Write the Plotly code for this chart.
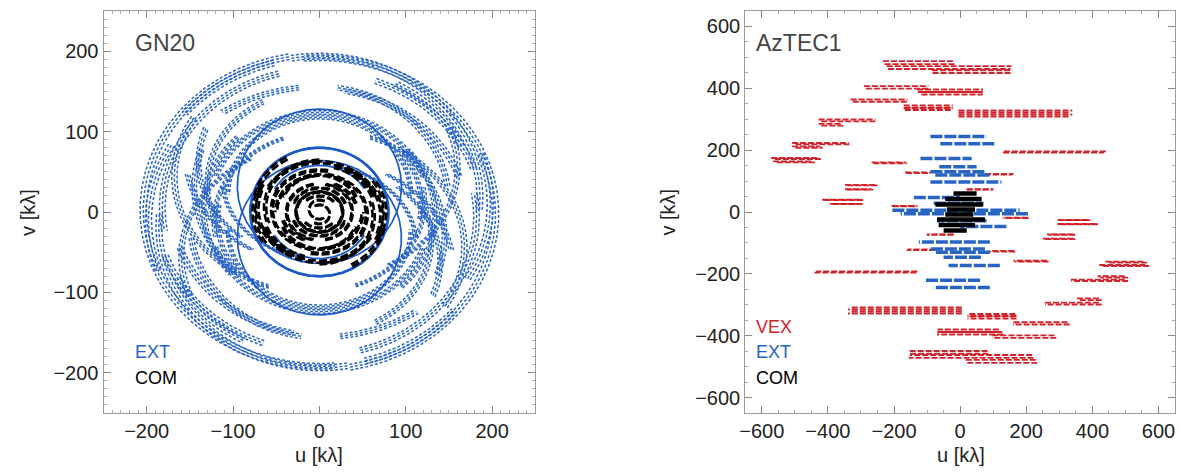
import numpy as np
import plotly.graph_objects as go

# ---------------- GN20 (left panel): elliptical uv-track arcs ----------------
# each arc: u = a*cos(t), v = c + b*sin(t), t in [t1, t2] degrees; conjugate (-u,-v) also drawn
gn_ext_a  = [204, 204, 186, 182, 196, 150, 168, 160, 175, 140, 128, 122, 118, 106, 134, 112, 190, 198, 172, 155, 145, 130]
gn_ext_b  = [194, 194, 176, 172, 178, 144, 146, 140, 150, 122, 122, 110, 108,  96, 126,  98, 182, 186, 165, 135, 140, 118]
gn_ext_c  = [ -2,  -2,  18,   6, -22,  12,  44,  55,  30,  62,   2,  12, -10,  22,  -4,  40,   8,  10, -12,  70, -30,  35]
gn_ext_t1 = [-80, 105,  -5, 105,  97,   8, 150, -60,  20, 160,  20, -70, 170,   0, -45, 185, 200, -30,  20, 190, -20, 120]
gn_ext_t2 = [ 95, 140, 100, 190, 125,  82, 250,  20,  60, 230, 160,  10, 215, 180,  40, 260, 250,  20,  80, 240,  50, 200]

gn_bold_a  = [80, 95, 60]
gn_bold_b  = [80, 96, 58]
gn_bold_c  = [ 0, 32,  0]
gn_bold_t1 = [ 0,  0, 30]
gn_bold_t2 = [360, 360, 150]
gn_bold_w  = [2.4, 1.7, 1.8]

gn_com_a  = [12, 27, 45, 45, 55, 63, 72, 75, 68, 38, 76, 50, 58, 32, 66, 22]
gn_com_b  = [12, 25, 42, 42, 50, 58, 66, 68, 62, 35, 70, 46, 54, 30, 60, 20]
gn_com_c  = [ 3,  0,  4,  4, -3,  6, -5,  8,  0,  0,  0,  0,  2,  0, -2,  0]
gn_com_t1 = [60,  0, 20, 200, -30, 90, -20, 120, 200, 100, 150, 100, 260, 200, 20, 40]
gn_com_t2 = [300, 360, 160, 250, 80, 200, 60, 170, 330, 260, 215, 180, 330, 340, 75, 140]

# ---------------- AzTEC1 (right panel): near-horizontal track segments ----------------
# (u_start, u_end, v) for upper half; conjugates (-u, -v) also drawn
az_vex_u1 = [-231, -220, -84, -288, -129, -118, -328, -169, -169, -5, -5, -424, -424, -503, -503, 131, -566, -560, -265, -165, 75, -345, -345, -413, -390, 20, -205]
az_vex_u2 = [-16, 154, 154, -95, 69, 69, -158, -22, -22, 336, 336, -254, -356, -333, -420, 440, -424, -440, -163, -90, 160, -248, -265, -294, -294, 100, -130]
az_vex_v  = [483, 467, 454, 403, 392, 384, 360, 341, 333, 325, 312, 296, 282, 221, 210, 194, 173, 162, 159, 127, 122, 87, 73, 39, 26, 73, 19]

az_ext_u1 = [-90, -60, -120, -63, -90, -75, -90, -140, -205, -80]
az_ext_u2 = [80, 105, 35, 50, 75, 90, 125, 0, 180, 70]
az_ext_v  = [244, 221, 173, 146, 130, 120, 97, 47, 6, 28]

az_com_u1 = [-20, -45, -75, -40]
az_com_u2 = [50, 65, 70, 45]
az_com_v  = [60, 42, 24, 8]

BLUE = "#2864c4"
BLUE_DARK = "#1b58c8"
RED = "#d2222a"
BLACK = "#000000"


def arc_pts(a, b, c, t1, t2):
    n = max(int(abs(t2 - t1) * 2), 20)
    t = np.radians(np.linspace(t1, t2, n))
    return a * np.cos(t), c + b * np.sin(t)


def arcs_xy(a_l, b_l, c_l, t1_l, t2_l, chans):
    xs, ys = [], []
    for a, b, c, t1, t2 in zip(a_l, b_l, c_l, t1_l, t2_l):
        u, v = arc_pts(a, b, c, t1, t2)
        for f in chans:
            for s in (1, -1):
                xs += list(s * f * u) + [None]
                ys += list(s * f * v) + [None]
    return xs, ys


def segs_xy(u1_l, u2_l, v_l, chans):
    xs, ys = [], []
    for u1, u2, v in zip(u1_l, u2_l, v_l):
        for f in chans:
            for s in (1, -1):
                xs += [s * f * u1, s * f * u2, None]
                ys += [s * f * v, s * f * v, None]
    return xs, ys


fig = go.Figure()

# left panel
x, y = arcs_xy(gn_ext_a, gn_ext_b, gn_ext_c, gn_ext_t1, gn_ext_t2, [0.982, 1.0, 1.018])
fig.add_trace(go.Scatter(x=x, y=y, mode="lines", line=dict(color=BLUE, width=1.5, dash="3px,2px"),
                         xaxis="x", yaxis="y", hoverinfo="skip"))
for i in range(len(gn_bold_a)):
    x, y = arcs_xy([gn_bold_a[i]], [gn_bold_b[i]], [gn_bold_c[i]], [gn_bold_t1[i]], [gn_bold_t2[i]], [1.0])
    fig.add_trace(go.Scatter(x=x, y=y, mode="lines", line=dict(color=BLUE_DARK, width=gn_bold_w[i]),
                             xaxis="x", yaxis="y", hoverinfo="skip"))
x, y = arcs_xy(gn_com_a, gn_com_b, gn_com_c, gn_com_t1, gn_com_t2, [0.98, 1.02])
fig.add_trace(go.Scatter(x=x, y=y, mode="lines", line=dict(color=BLACK, width=2.6, dash="8px,3px"),
                         xaxis="x", yaxis="y", hoverinfo="skip"))

# right panel
x, y = segs_xy(az_vex_u1, az_vex_u2, az_vex_v, [0.99, 1.01])
fig.add_trace(go.Scatter(x=x, y=y, mode="lines", line=dict(color=RED, width=1.9, dash="6px,2px"),
                         xaxis="x2", yaxis="y2", hoverinfo="skip"))
x, y = segs_xy(az_ext_u1, az_ext_u2, az_ext_v, [1.0])
fig.add_trace(go.Scatter(x=x, y=y, mode="lines", line=dict(color=BLUE, width=3.5, dash="12px,2px"),
                         xaxis="x2", yaxis="y2", hoverinfo="skip"))
x, y = segs_xy(az_com_u1, az_com_u2, az_com_v, [1.0])
fig.add_trace(go.Scatter(x=x, y=y, mode="lines", line=dict(color=BLACK, width=4.5),
                         xaxis="x2", yaxis="y2", hoverinfo="skip"))

W, H = 1180, 472
FONT = "Liberation Sans"
tickfont = dict(family=FONT, size=20, color="#222")


def ax(dom, rng, dtick, minor):
    return dict(domain=dom, range=rng, dtick=dtick, tick0=0, ticks="inside", ticklen=7,
                tickcolor="#888", tickwidth=1, mirror="ticks", showline=True, linecolor="#999",
                linewidth=1, showgrid=False, zeroline=False, tickfont=tickfont,
                minor=dict(dtick=minor, tick0=0, ticks="inside", ticklen=3, tickcolor="#aaa", showgrid=False))


ydom = [1 - 413 / H, 1 - 11 / H]
fig.update_layout(
    width=W, height=H, margin=dict(l=0, r=0, t=0, b=0),
    paper_bgcolor="white", plot_bgcolor="white", showlegend=False,
    xaxis=dict(**ax([98 / W, 532 / W], [-250, 250], 100, 10), anchor="y"),
    yaxis=dict(**ax(ydom, [-250, 250], 100, 10), anchor="x"),
    xaxis2=dict(**ax([743 / W, 1175 / W], [-650, 650], 200, 50), anchor="y2"),
    yaxis2=dict(**ax(ydom, [-650, 650], 200, 50), anchor="x2"),
)


def txt(s, xp, yp, size, color, angle=0, anchor="left"):
    fig.add_annotation(text=s, x=xp / W, y=1 - yp / H, xref="paper", yref="paper", showarrow=False,
                       xanchor=anchor, yanchor="middle", textangle=angle,
                       font=dict(family=FONT, size=size, color=color))


txt("GN20", 128, 43, 23, "#444")
txt("EXT", 128, 352, 18, BLUE)
txt("COM", 128, 378, 18, BLACK)
txt("AzTEC1", 752, 43, 23, "#444")
txt("VEX", 752, 327, 18, RED)
txt("EXT", 752, 352, 18, BLUE)
txt("COM", 752, 378, 18, BLACK)
txt("u [kλ]", 315, 455, 20, "#222", anchor="center")
txt("u [kλ]", 960, 455, 20, "#222", anchor="center")
txt("v [kλ]", 22, 212, 20, "#222", angle=-90, anchor="center")
txt("v [kλ]", 665, 212, 20, "#222", angle=-90, anchor="center")

fig.write_html("out.html", config={"displayModeBar": False},
               post_script="document.body.style.margin='0';document.body.style.overflow='hidden';")
